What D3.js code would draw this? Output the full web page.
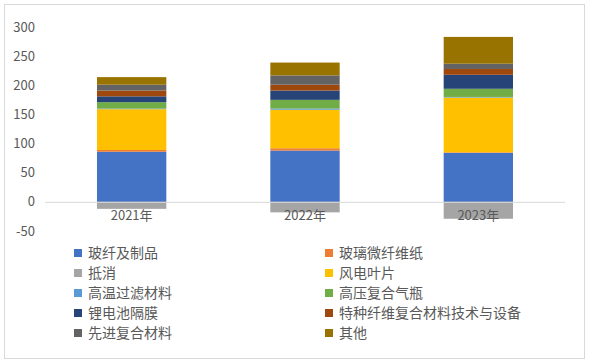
<!DOCTYPE html>
<html>
<head>
<meta charset="utf-8">
<script src="https://cdn.jsdelivr.net/npm/d3@7"></script>
<style>
  body { margin: 0; background: #fff; }
  text { font-family: "Noto Sans CJK SC", "Noto Sans", sans-serif; fill: #595959; }
</style>
</head>
<body>
<div id="chart"></div>
<script>
// categories and series
var years = ["2021年", "2022年", "2023年"];
var seriesNames = ["玻纤及制品", "玻璃微纤维纸", "抵消", "风电叶片", "高温过滤材料",
    "高压复合气瓶", "锂电池隔膜", "特种纤维复合材料技术与设备", "先进复合材料", "其他"];
var seriesColors = ["#4472C4", "#ED7D31", "#A5A5A5", "#FFC000", "#5B9BD5",
    "#70AD47", "#264478", "#9E480E", "#636363", "#997300"];

var glassFiber = [86, 88, 84];
var microFiberPaper = [3, 4, 1];
var offset = [-12, -18, -29];
var windBlades = [70, 66, 94];
var filterMaterial = [1, 2, 1];
var gasCylinders = [11, 15, 14];
var batterySeparator = [10, 16, 24];
var specialFiber = [10, 10, 10];
var advancedComposite = [10, 16, 9];
var others = [13, 22, 46];

var yTicks = [-50, 0, 50, 100, 150, 200, 250, 300];

var allSeries = [glassFiber, microFiberPaper, offset, windBlades, filterMaterial,
    gasCylinders, batterySeparator, specialFiber, advancedComposite, others];

// build rows for d3.stack
var rows = years.map(function (y, i) {
    var r = { year: y };
    seriesNames.forEach(function (name, k) { r[name] = allSeries[k][i]; });
    return r;
});

var W = 589, H = 363;
var svg = d3.select("#chart").append("svg")
    .attr("width", W).attr("height", H);

// outer frame
svg.append("rect")
    .attr("x", 4.5).attr("y", 4.5)
    .attr("width", W - 9).attr("height", H - 9)
    .attr("fill", "none").attr("stroke", "#d9d9d9");

var x = d3.scaleBand()
    .domain(years)
    .range([45, 565])
    .paddingInner(0.6)
    .paddingOuter(0.3);

var y = d3.scaleLinear()
    .domain([-50, 300])
    .range([231, 27]);

var stacked = d3.stack()
    .keys(seriesNames)
    .offset(d3.stackOffsetDiverging)(rows);

// y tick labels
svg.append("g").selectAll("text")
    .data(yTicks)
    .enter().append("text")
    .attr("x", 35)
    .attr("y", function (d) { return y(d); })
    .attr("dy", "0.35em")
    .attr("text-anchor", "end")
    .style("font-size", "13px")
    .text(function (d) { return d; });

// bars
svg.append("g").selectAll("g")
    .data(stacked)
    .enter().append("g")
    .attr("fill", function (d, i) { return seriesColors[i]; })
    .selectAll("rect")
    .data(function (d) { return d; })
    .enter().append("rect")
    .attr("x", function (d) { return x(d.data.year); })
    .attr("y", function (d) { return y(Math.max(d[0], d[1])); })
    .attr("width", x.bandwidth())
    .attr("height", function (d) { return Math.abs(y(d[0]) - y(d[1])); });

// zero line
svg.append("line")
    .attr("x1", 45).attr("x2", 565)
    .attr("y1", y(0) + 0.5).attr("y2", y(0) + 0.5)
    .attr("stroke", "#d9d9d9");

// category labels
svg.append("g").selectAll("text")
    .data(years)
    .enter().append("text")
    .attr("x", function (d) { return x(d) + x.bandwidth() / 2; })
    .attr("y", y(0) + 18)
    .attr("text-anchor", "middle")
    .style("font-size", "13px")
    .text(function (d) { return d; });

// legend, two columns
var legend = svg.append("g").selectAll("g")
    .data(seriesNames)
    .enter().append("g")
    .attr("transform", function (d, i) {
        var col = i % 2, row = Math.floor(i / 2);
        return "translate(" + (col === 0 ? 74 : 325) + "," + (253 + row * 20) + ")";
    });

legend.append("rect")
    .attr("x", 0).attr("y", -4)
    .attr("width", 8).attr("height", 8)
    .attr("fill", function (d, i) { return seriesColors[i]; });

legend.append("text")
    .attr("x", 14)
    .attr("y", 0)
    .attr("dy", "0.35em")
    .style("font-size", "14px")
    .text(function (d) { return d; });
</script>
</body>
</html>
